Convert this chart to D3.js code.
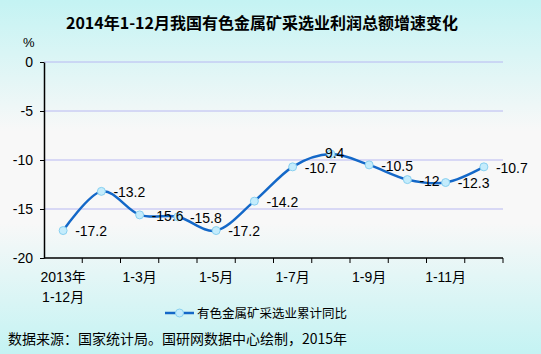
<!DOCTYPE html>
<html>
<head>
<meta charset="utf-8">
<script src="https://cdn.jsdelivr.net/npm/d3@7"></script>
<style>
  body { margin: 0; }
  svg { display: block; font-family: "Liberation Sans", Arial, "Noto Sans CJK SC", sans-serif; }
</style>
</head>
<body>
<svg id="chart" width="541" height="354"></svg>
<script>
// data
const categories = ['2013年1-12月', '1-2月', '1-3月', '1-4月', '1-5月', '1-6月',
  '1-7月', '1-8月', '1-9月', '1-10月', '1-11月', '1-12月']
const values = [-17.2, -13.2, -15.6, -15.8, -17.2, -14.2, -10.7, -9.4, -10.5, -12, -12.3, -10.7]
const valueLabels = ['-17.2', '-13.2', '-15.6', '-15.8', '-17.2', '-14.2', '-10.7', '9.4', '-10.5', '-12', '-12.3', '-10.7']
const yTicks = [0, -5, -10, -15, -20]
const seriesName = '有色金属矿采选业累计同比'
const title = '2014年1-12月我国有色金属矿采选业利润总额增速变化'
const source = '数据来源：国家统计局。国研网数据中心绘制，2015年'

const W = 541, H = 354
const margins = { top: 62, right: 38, bottom: 96, left: 44 }
const width = W - margins.left - margins.right
const height = H - margins.top - margins.bottom

const svg = d3.select('#chart')

// background gradient cyan -> white -> cyan
const grad = svg.append('defs').append('linearGradient')
  .attr('id', 'bg').attr('x1', 0).attr('y1', 0).attr('x2', 0).attr('y2', 1)
grad.selectAll('stop')
  .data([[0, '#c4f3f3'], [0.37, '#f8f8f8'], [0.63, '#f8f8f8'], [1, '#c4f3f3']])
  .enter().append('stop')
  .attr('offset', (d) => d[0])
  .attr('stop-color', (d) => d[1])
svg.append('rect').attr('width', W).attr('height', H).attr('fill', 'url(#bg)')

svg.append('text')
  .attr('x', 262).attr('y', 29)
  .attr('text-anchor', 'middle')
  .attr('font-family', '"Noto Sans CJK SC", sans-serif')
  .attr('font-weight', 'bold')
  .attr('font-size', 16)
  .text(title)

svg.append('text')
  .attr('x', 23).attr('y', 47)
  .attr('font-size', 13)
  .text('%')

const g = svg.append('g')
  .attr('transform', `translate(${margins.left}, ${margins.top})`)

const x = d3.scaleBand().domain(categories).range([0, width])
const y = d3.scaleLinear().domain([-20, 0]).range([height, 0])
const cx = (i) => x(categories[i]) + x.bandwidth() / 2

// gridlines
g.selectAll('.grid')
  .data(yTicks.filter((d) => d !== -20))
  .enter().append('line')
  .attr('x1', 0).attr('x2', width)
  .attr('y1', (d) => y(d)).attr('y2', (d) => y(d))
  .attr('stroke', '#b8b8f2').attr('stroke-width', 1)

// y axis
const yAxis = g.append('g')
  .call(d3.axisLeft(y).tickValues(yTicks).tickSize(4).tickSizeOuter(0)
    .tickPadding(7).tickFormat((d) => String(d)))
yAxis.select('.domain').attr('stroke', '#000').attr('stroke-width', 1.5)
yAxis.selectAll('text').attr('font-size', 14).attr('fill', '#000').attr('dy', '0.35em')

// x axis: ticks at band boundaries
const xAxisG = g.append('g').attr('transform', `translate(0, ${height})`)
xAxisG.append('line')
  .attr('x1', 0).attr('x2', width).attr('stroke', '#000').attr('stroke-width', 1.5)
xAxisG.selectAll('.tk')
  .data(d3.range(1, categories.length + 1))
  .enter().append('line')
  .attr('x1', (i) => i * x.bandwidth()).attr('x2', (i) => i * x.bandwidth())
  .attr('y1', 0).attr('y2', 5)
  .attr('stroke', '#000')
xAxisG.selectAll('.lbl')
  .data(categories.map((c, i) => i).filter((i) => i % 2 === 0))
  .enter().append('text')
  .attr('x', (i) => cx(i))
  .attr('y', 24)
  .attr('text-anchor', 'middle')
  .attr('font-size', 14)
  .each(function (i) {
    const c = categories[i]
    const t = d3.select(this)
    if (c.startsWith('2013年')) {
      t.append('tspan').attr('x', cx(i)).text('2013年')
      t.append('tspan').attr('x', cx(i)).attr('dy', 20).text(c.slice(5))
    } else {
      t.text(c)
    }
  })

// line
const line = d3.line()
  .x((d, i) => cx(i))
  .y((d) => y(d))
  .curve(d3.curveCardinal.tension(0))
g.append('path')
  .datum(values)
  .attr('d', line)
  .attr('fill', 'none')
  .attr('stroke', '#1468c8')
  .attr('stroke-width', 2.5)

g.selectAll('.pt')
  .data(values)
  .enter().append('circle')
  .attr('cx', (d, i) => cx(i))
  .attr('cy', (d) => y(d))
  .attr('r', 4)
  .attr('fill', '#c4ecfc')
  .attr('stroke', '#88d0f0')
  .attr('stroke-width', 1)

g.selectAll('.val')
  .data(values)
  .enter().append('text')
  .attr('x', (d, i) => cx(i) + (i === 7 ? -6 : 12))
  .attr('y', (d, i) => y(d) + (i === 7 ? -1 : 1))
  .attr('dy', '0.35em')
  .attr('font-size', 14)
  .text((d, i) => valueLabels[i])

// legend
const lg = svg.append('g').attr('transform', 'translate(165, 313)')
lg.append('line').attr('x1', 0).attr('x2', 29).attr('stroke', '#1468c8').attr('stroke-width', 2.5)
lg.append('circle').attr('cx', 14.5).attr('r', 4)
  .attr('fill', '#c4ecfc').attr('stroke', '#88d0f0')
lg.append('text').attr('x', 32).attr('dy', '0.38em')
  .attr('font-family', '"Noto Sans CJK SC", sans-serif')
  .attr('font-size', 12.5)
  .text(seriesName)

svg.append('text')
  .attr('x', 8).attr('y', 344)
  .attr('font-family', '"Noto Sans CJK SC", sans-serif')
  .attr('font-size', 14)
  .text(source)
</script>
</body>
</html>
